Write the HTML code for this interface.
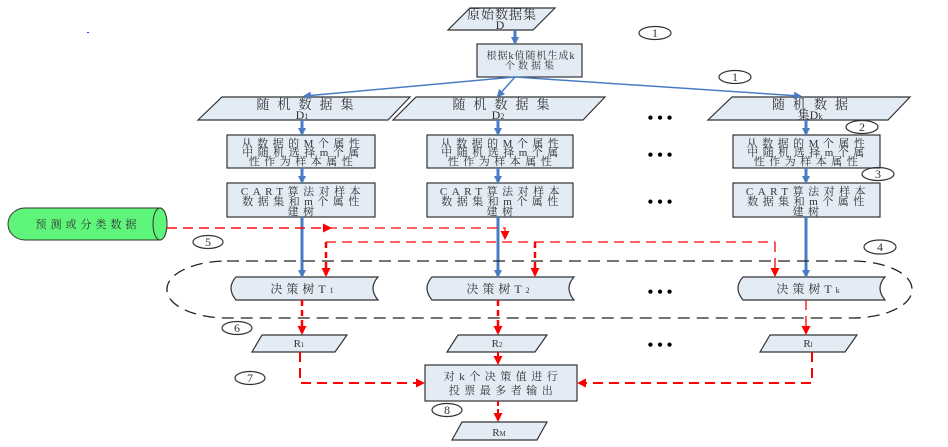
<!DOCTYPE html>
<html><head><meta charset="utf-8"><style>
html,body{margin:0;padding:0;background:#fff}
svg{display:block}
text{font-family:"Liberation Serif","Noto Serif CJK SC",serif;fill:#333;text-anchor:middle}
.b{font-size:11px;letter-spacing:4.5px}
.t{font-size:13px;letter-spacing:8px}
</style></head><body>
<svg width="948" height="447" viewBox="0 0 948 447" xmlns="http://www.w3.org/2000/svg">
<defs>
<marker id="bA" markerWidth="8" markerHeight="8" refX="6" refY="4" orient="auto" markerUnits="userSpaceOnUse"><path d="M0,0 L8,4 L0,8 z" fill="#4a7cc4"/></marker>
<marker id="rA" markerWidth="9" markerHeight="9" refX="7" refY="4.5" orient="auto" markerUnits="userSpaceOnUse"><path d="M0,0 L9,4.5 L0,9 z" fill="#f00"/></marker>
</defs>
<g fill="#e3ebf5" stroke="#333" stroke-width="1.2">
<polygon points="470,8 555,8 533,30 448,30"/>
<rect x="477" y="44" width="105" height="33"/>
<polygon points="222,97 410,97 388,120 198,120"/>
<polygon points="416,97 605,97 583,120 393,120"/>
<polygon points="732,97 910,97 888,120 708,120"/>
<rect x="227" y="135" width="148" height="33"/><rect x="427" y="135" width="146" height="33"/><rect x="733" y="135" width="147" height="33"/>
<rect x="227" y="183" width="148" height="34"/><rect x="427" y="183" width="146" height="34"/><rect x="733" y="183" width="147" height="34"/>
<path d="M236,277 H378 Q368,288 378,300 H236 Q226,288 236,277 z"/>
<path d="M432,277 H574 Q564,288 574,300 H432 Q422,288 432,277 z"/>
<path d="M743,277 H885 Q875,288 885,300 H743 Q733,288 743,277 z"/>
<polygon points="262,335 347,335 335,352 252,352"/>
<polygon points="458,335 547,335 535,352 447,352"/>
<polygon points="770,335 857,335 845,352 760,352"/>
<rect x="425" y="365" width="152" height="36"/>
<polygon points="462,422 547,422 537,440 452,440"/>
</g>
<path d="M25,208 H160 A7,16 0 0 1 160,240 H25 A17,16 0 0 1 25,208 z" fill="#5ef57a" stroke="#333"/>
<ellipse cx="160" cy="224" rx="7" ry="16" fill="#5ef57a" stroke="#333"/>
<text x="88" y="228" style="font-size:11px;letter-spacing:4px">预测或分类数据</text>
<g stroke="#4a7cc4" stroke-width="3" fill="none" marker-end="url(#bA)">
<line x1="515" y1="30" x2="515" y2="43"/>
<line x1="302" y1="120" x2="302" y2="134"/><line x1="498" y1="120" x2="498" y2="134"/><line x1="806" y1="120" x2="806" y2="134"/>
<line x1="302" y1="168" x2="302" y2="182"/><line x1="498" y1="168" x2="498" y2="182"/><line x1="806" y1="168" x2="806" y2="182"/>
<line x1="302" y1="217" x2="302" y2="276"/><line x1="498" y1="217" x2="498" y2="276"/><line x1="806" y1="217" x2="806" y2="276"/>
</g>
<g stroke="#4a7cc4" stroke-width="1.5" fill="none" marker-end="url(#bA)">
<line x1="515" y1="77" x2="305" y2="96"/><line x1="515" y1="77" x2="498" y2="96"/><line x1="515" y1="77" x2="800" y2="96"/>
</g>
<rect x="167" y="261" width="745" height="57" rx="60" ry="28" fill="none" stroke="#222" stroke-width="1.3" stroke-dasharray="12,7"/>
<g stroke="#f00" fill="none" stroke-dasharray="10,6">
<path d="M167,228 H505 V238" stroke-width="1.2" marker-end="url(#rA)"/>
<path d="M167,228 H330" stroke-width="1.2" marker-end="url(#rA)"/>
<path d="M326,242 H775" stroke-width="1.2"/>
<path d="M326,242 V275" stroke-width="2.5" stroke-dasharray="6,4" marker-end="url(#rA)"/>
<path d="M535,242 V275" stroke-width="2.5" stroke-dasharray="6,4" marker-end="url(#rA)"/>
<path d="M775,242 V275" stroke-width="1.3" marker-end="url(#rA)"/>
<path d="M302,300 V333" stroke-width="2.5" stroke-dasharray="6,4" marker-end="url(#rA)"/>
<path d="M498,300 V333" stroke-width="2.5" stroke-dasharray="6,4" marker-end="url(#rA)"/>
<path d="M806,300 V333" stroke-width="1.3" marker-end="url(#rA)"/>
<path d="M300,352 V383 H423" stroke-width="2" marker-end="url(#rA)"/>
<path d="M812,352 V383 H579" stroke-width="2" marker-end="url(#rA)"/>
<path d="M498,352 V363" stroke-width="2" stroke-dasharray="5,3" marker-end="url(#rA)"/>
<path d="M498,401 V420" stroke-width="2" stroke-dasharray="5,3" marker-end="url(#rA)"/>
</g>
<g fill="none" stroke="#333" stroke-width="1.2">
<ellipse cx="655" cy="33" rx="16" ry="6.5"/><ellipse cx="735" cy="77" rx="16" ry="6.5"/>
<ellipse cx="862" cy="127" rx="16" ry="6.5"/><ellipse cx="878" cy="174" rx="16" ry="6.5"/>
<ellipse cx="208" cy="242" rx="15" ry="6.5"/><ellipse cx="880" cy="247" rx="16" ry="7"/>
<ellipse cx="237" cy="328" rx="15" ry="6.5"/><ellipse cx="250" cy="378" rx="15" ry="6.5"/>
<ellipse cx="447" cy="410" rx="15" ry="6.5"/>
</g>
<g font-size="12">
<text x="655" y="37">1</text><text x="735" y="81">1</text><text x="862" y="131">2</text><text x="878" y="178">3</text>
<text x="208" y="246">5</text><text x="880" y="251">4</text><text x="237" y="332">6</text><text x="250" y="382">7</text><text x="447" y="414">8</text>
</g>
<g font-size="16" font-weight="bold">
<text x="660" y="123" style="fill:#000">• • •</text><text x="660" y="160" style="fill:#000">• • •</text>
<text x="660" y="207" style="fill:#000">• • •</text><text x="660" y="297" style="fill:#000">• • •</text>
<text x="660" y="350" style="fill:#000">• • •</text>
</g>
<text x="502" y="19" font-size="13" style="letter-spacing:1px">原始数据集</text><text x="500" y="29" font-size="12">D</text>
<text x="309" y="109" class="t">随机数据集</text><text x="302" y="119" font-size="12">D<tspan font-size="8">1</tspan></text>
<text x="505" y="109" class="t">随机数据集</text><text x="498" y="119" font-size="12">D<tspan font-size="8">2</tspan></text>
<text x="814" y="109" class="t">随机数据</text><text x="810" y="119" font-size="12">集D<tspan font-size="8">k</tspan></text>
<g class="b">
<text x="531" y="59" style="letter-spacing:1px;font-size:10px">根据k值随机生成k</text><text x="531" y="69" style="letter-spacing:3px;font-size:10px">个数据集</text>
<text x="303" y="147">从数据的M个属性</text><text x="303" y="156">中随机选择m个属</text><text x="303" y="165">性作为样本属性</text>
<text x="502" y="147">从数据的M个属性</text><text x="502" y="156">中随机选择m个属</text><text x="502" y="165">性作为样本属性</text>
<text x="808" y="147">从数据的M个属性</text><text x="808" y="156">中随机选择m个属</text><text x="808" y="165">性作为样本属性</text>
<text x="303" y="195">CART算法对样本</text><text x="303" y="205">数据集和m个属性</text><text x="303" y="215">建树</text>
<text x="502" y="195">CART算法对样本</text><text x="502" y="205">数据集和m个属性</text><text x="502" y="215">建树</text>
<text x="808" y="195">CART算法对样本</text><text x="808" y="205">数据集和m个属性</text><text x="808" y="215">建树</text>
<text x="503" y="380">对k个决策值进行</text><text x="503" y="394">投票最多者输出</text>
</g>
<g font-size="12" style="letter-spacing:4px">
<text x="304" y="293">决策树T<tspan font-size="8">1</tspan></text>
<text x="500" y="293">决策树T<tspan font-size="8">2</tspan></text>
<text x="810" y="293">决策树T<tspan font-size="8">k</tspan></text>
</g>
<g font-size="11">
<text x="299" y="347">R<tspan font-size="7">1</tspan></text>
<text x="497" y="347">R<tspan font-size="7">2</tspan></text>
<text x="808" y="347">R<tspan font-size="7">l</tspan></text>
<text x="499" y="436">R<tspan font-size="7">M</tspan></text>
</g>
<rect x="87" y="32" width="2" height="1" fill="#33c"/>
</svg>
</body></html>
